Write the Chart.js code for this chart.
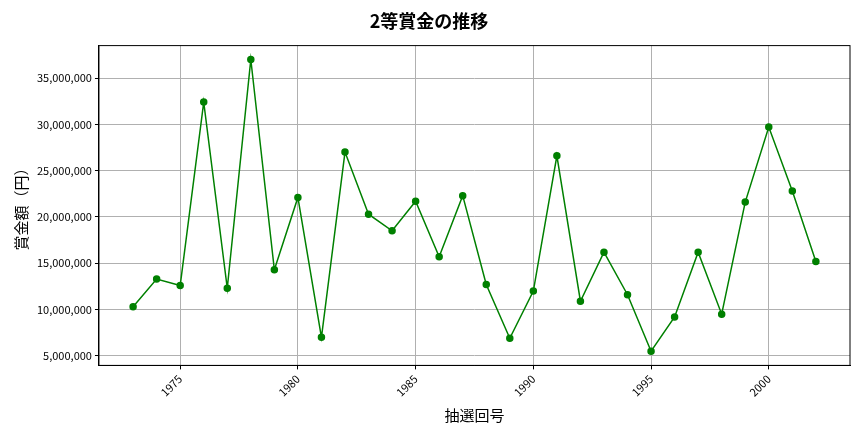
<!doctype html>
<html lang="ja">
<head>
<meta charset="utf-8">
<script src="https://cdn.jsdelivr.net/npm/chart.js"></script>
<style>
  body { margin: 0; background: #fff; }
</style>
</head>
<body>
<canvas id="chart" width="864" height="432"></canvas>
<script>
const years = [1973,1974,1975,1976,1977,1978,1979,1980,1981,1982,1983,1984,1985,1986,1987,
  1988,1989,1990,1991,1992,1993,1994,1995,1996,1997,1998,1999,2000,2001,2002];
const prizes = [10300000,13300000,12600000,32400000,12300000,37000000,14300000,22100000,7000000,27000000,
  20300000,18500000,21700000,15700000,22300000,12700000,6900000,12000000,26600000,10900000,
  16200000,11600000,5500000,9200000,16200000,9500000,21600000,29700000,22800000,15200000];
const xTicks = [1975,1980,1985,1990,1995,2000];

const font = "'Noto Sans CJK JP', 'Noto Sans', sans-serif";
Chart.defaults.font.family = font;
Chart.defaults.color = '#000';

// frame around the plot area
const frame = {
  id: 'frame',
  afterDraw(chart) {
    const a = chart.chartArea, c = chart.ctx;
    c.save();
    c.strokeStyle = '#000';
    c.lineWidth = 1;
    c.strokeRect(a.left, a.top, a.right - a.left, a.bottom - a.top);
    c.restore();
  }
};

new Chart(document.getElementById('chart'), {
  type: 'line',
  data: {
    datasets: [{
      data: years.map((y, i) => ({ x: y, y: prizes[i] })),
      borderColor: 'green',
      backgroundColor: 'green',
      borderWidth: 1.5,
      pointRadius: 3,
      tension: 0
    }]
  },
  options: {
    responsive: false,
    animation: false,
    layout: { padding: { left: 8, right: 14, top: 4, bottom: 4 } },
    plugins: {
      legend: { display: false },
      title: { display: true, text: '2等賞金の推移', font: { size: 18, weight: 'bold' }, padding: { top: 6, bottom: 14 } }
    },
    scales: {
      x: {
        type: 'linear', min: 1971.55, max: 2003.45,
        afterBuildTicks: s => { s.ticks = xTicks.map(v => ({ value: v })); },
        ticks: { maxRotation: 45, minRotation: 45, font: { size: 11 }, callback: v => String(v) },
        grid: { color: '#b0b0b0', tickColor: '#000', tickLength: 4 },
        border: { color: '#000' },
        title: { display: true, text: '抽選回号', font: { size: 15 } }
      },
      y: {
        min: 3970000, max: 38500000,
        afterBuildTicks: s => { s.ticks = [5,10,15,20,25,30,35].map(v => ({ value: v * 1000000 })); },
        ticks: { font: { size: 11 }, callback: v => v.toLocaleString('en-US') },
        grid: { color: '#b0b0b0', tickColor: '#000', tickLength: 4 },
        border: { color: '#000' },
        title: { display: true, text: '賞金額（円）', font: { size: 15 } }
      }
    }
  },
  plugins: [frame]
});
</script>
</body>
</html>
